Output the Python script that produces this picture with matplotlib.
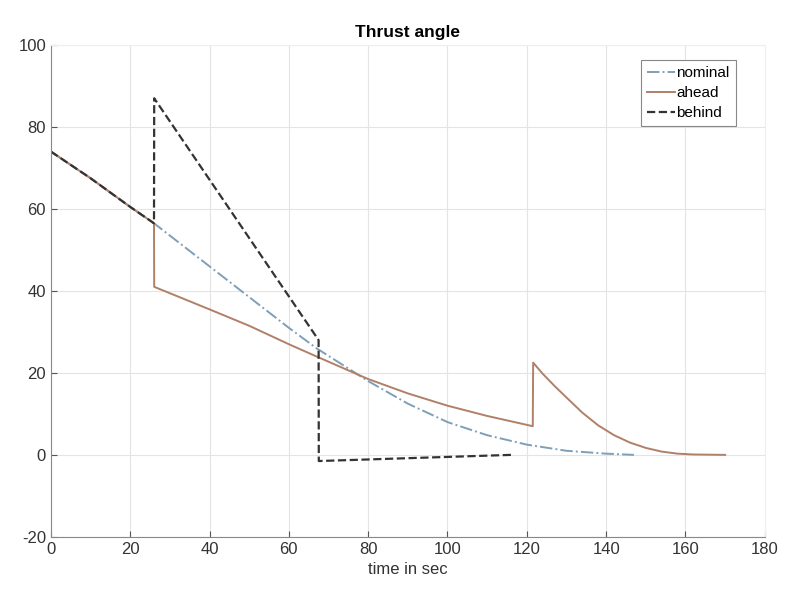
import matplotlib.pyplot as plt

plt.rcParams['font.family'] = ['Liberation Sans', 'DejaVu Sans']
plt.rcParams['axes.unicode_minus'] = False

# nominal trajectory
t_nom = [0, 10, 20, 26, 40, 50, 60, 67, 80, 90, 100, 110, 120, 130, 140, 147]
a_nom = [74, 67.5, 60.5, 56.5, 46, 38.5, 31, 26, 18, 12.5, 8, 4.8, 2.5, 1, 0.3, 0]

# ahead
t_ahead = [0, 10, 20, 26, 26.05, 40, 50, 60, 67, 80, 90, 100, 110, 121.5, 121.6,
           124, 127, 130, 134, 138, 142, 146, 150, 154, 158, 162, 170]
a_ahead = [74, 67.5, 60.5, 56.5, 41, 35.5, 31.5, 27, 24, 18.5, 15, 12, 9.5, 7, 22.5,
           19.8, 16.8, 14, 10.3, 7.2, 4.8, 3, 1.7, 0.8, 0.3, 0.1, 0]

# behind
t_behind = [0, 10, 20, 26, 26.05, 67.5, 67.55, 116]
a_behind = [74, 67.5, 60.5, 56.5, 87, 28, -1.5, 0]

fig = plt.figure(figsize=(7.95, 6.08), dpi=100)
ax = fig.add_axes([0.064, 0.117, 0.898, 0.809])

ax.plot(t_nom, a_nom, linestyle='-.', color='#7f9fb8', lw=1.4, label='nominal')
ax.plot(t_ahead, a_ahead, linestyle='-', color='#b08068', lw=1.4, label='ahead')
ax.plot(t_behind, a_behind, linestyle='--', color='#333333', lw=1.6, label='behind')

ax.set_xlim(0, 180)
ax.set_ylim(-20, 100)
ax.set_xticks(range(0, 181, 20))
ax.set_yticks(range(-20, 101, 20))
ax.grid(True, color='#e4e4e4', lw=0.8)
ax.set_axisbelow(True)
ax.tick_params(direction='in', length=4, labelsize=12, colors='#555555', labelcolor='#333333')
for s in ['left', 'bottom']:
    ax.spines[s].set_color('#888888')
for s in ['top', 'right']:
    ax.spines[s].set_color('#eeeeee')

ax.set_xlabel('time in sec', fontsize=12, color='#333333')
ax.set_title('Thrust angle', fontsize=12.5, fontweight='bold')
leg = ax.legend(loc='upper right', fontsize=11, fancybox=False, framealpha=1,
                edgecolor='#888888', handlelength=1.8, handletextpad=0.1,
                borderpad=0.4, labelspacing=0.4, bbox_to_anchor=(0.97, 0.985))
leg.get_frame().set_linewidth(0.8)

fig.savefig('out.png', dpi=100)
